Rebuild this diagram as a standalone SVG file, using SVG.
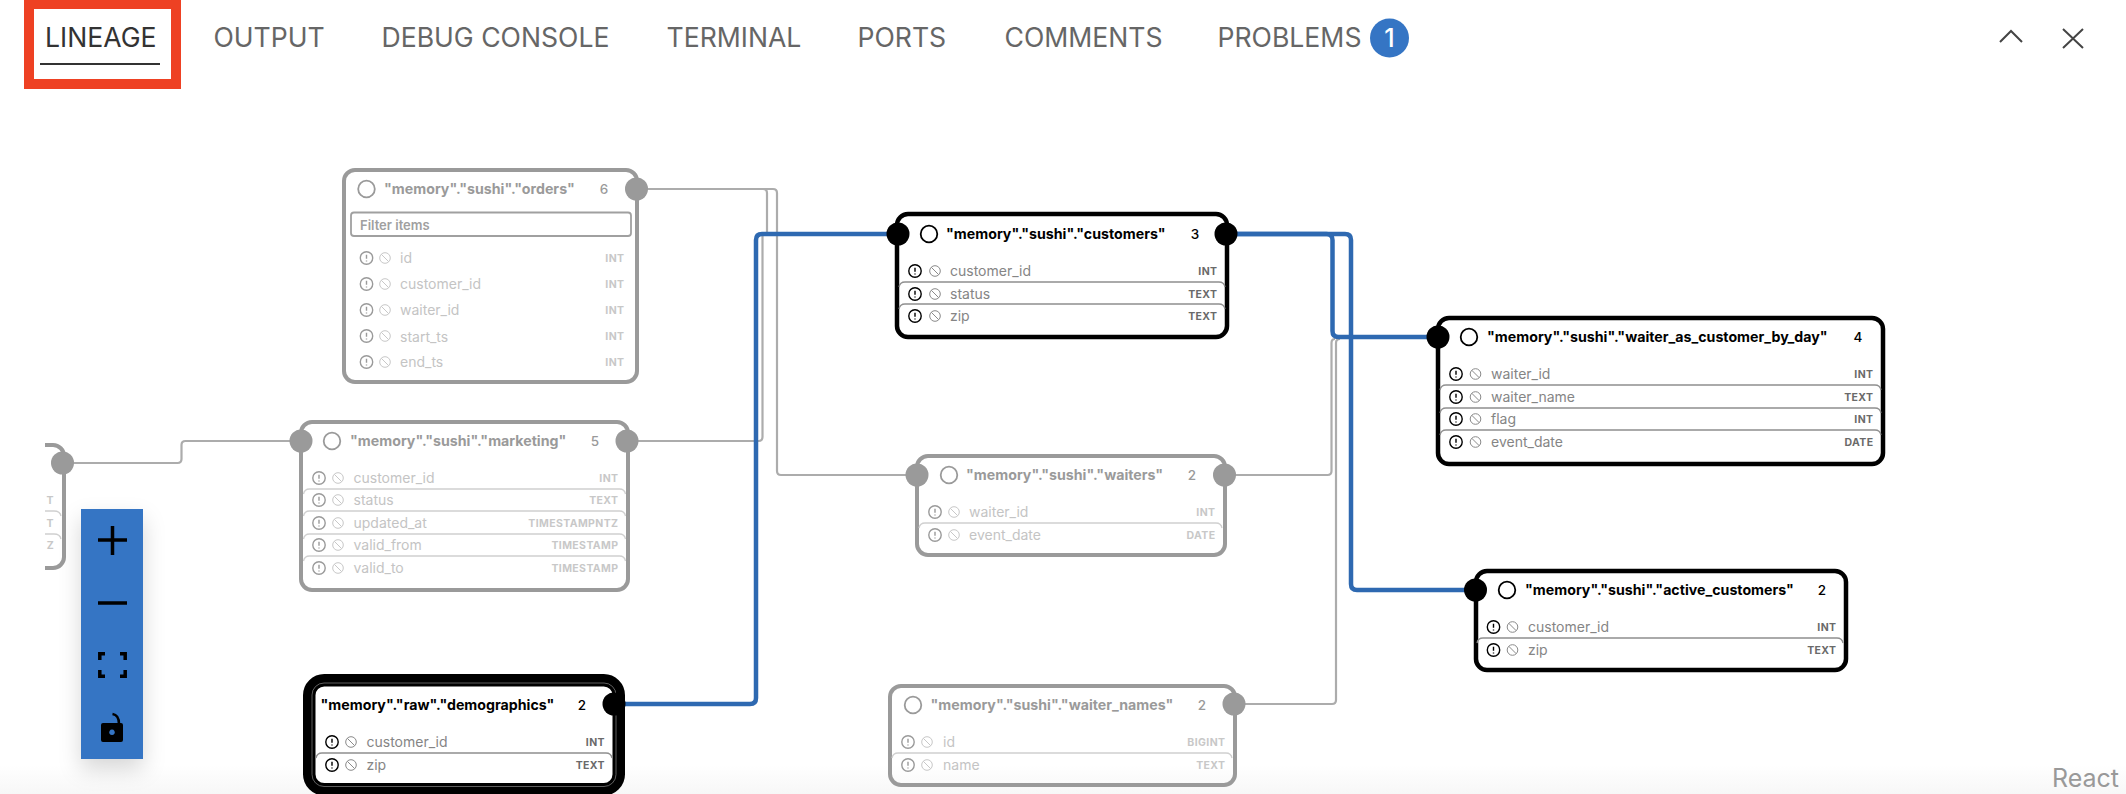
<svg xmlns="http://www.w3.org/2000/svg" xmlns:xlink="http://www.w3.org/1999/xlink" width="2126" height="794" viewBox="0 0 2126 794">
<style>
text{font-family:Inter,"Liberation Sans",sans-serif}
.tab{font-size:26.600px;fill:#666}
.cb{fill:none;stroke:#9a9a9a;stroke-width:4}
.ck{fill:none;stroke:#000;stroke-width:4.5}
.hg{fill:#9a9a9a}.hk{fill:#000}
.t{font-size:14.200px;font-weight:700;fill:#000}
.tg{font-size:14.200px;font-weight:700;fill:#9a9a9a}
.c{font-size:13.500px;font-weight:500;text-anchor:middle;fill:#000}
.cg{font-size:13.500px;font-weight:500;text-anchor:middle;fill:#9a9a9a}
.n{font-size:14px;fill:#858585}.ng{font-size:14px;fill:#c4c4c4}
.y{font-size:10.500px;font-weight:700;letter-spacing:.4px;text-anchor:end;fill:#6a6a6a}
.yg{font-size:10.500px;font-weight:700;letter-spacing:.4px;text-anchor:end;fill:#c8c8c8}
.s{fill:none;stroke:#8f8f8f;stroke-width:1.300}.sg{fill:none;stroke:#d0d0d0;stroke-width:1.300}
.gl{fill:none;stroke:#acacac;stroke-width:2.200}
.bl{fill:none;stroke:#2e69b1;stroke-width:4.500}
.ic{fill:none;stroke:#000;stroke-width:1.400}
.icg{fill:none;stroke:#9a9a9a;stroke-width:1.400}
.ct{fill:none;stroke:#000}
</style>
<defs>
<linearGradient id="fade" x1="0" y1="0" x2="0" y2="1"><stop offset="0" stop-color="#fff"/><stop offset="1" stop-color="#f7f7f7"/></linearGradient>
<filter id="sh" x="-60%" y="-20%" width="220%" height="140%"><feDropShadow dx="0" dy="10" stdDeviation="11" flood-color="#000" flood-opacity=".16"/></filter>
<clipPath id="cut"><rect x="45" y="430" width="40" height="150"/></clipPath>
<g id="ik"><circle r="6.200" class="ic"/><path d="M0-3.200V.8M0 2.600V3.600" class="ic"/></g>
<g id="ig"><circle r="6.200" class="icg"/><path d="M0-3.200V.8M0 2.600V3.600" class="icg"/></g>
<g id="bk"><circle r="5.300" fill="none" stroke="#8a8a8a" stroke-width="1"/><path d="M-3.700-3.700L3.700 3.700" fill="none" stroke="#8a8a8a" stroke-width="1"/></g>
<g id="bg"><circle r="5.300" fill="none" stroke="#c8c8c8" stroke-width="1"/><path d="M-3.700-3.700L3.700 3.700" fill="none" stroke="#c8c8c8" stroke-width="1"/></g>
</defs>
<rect width="2126" height="794" fill="#fff"/>
<rect y="765" width="2126" height="29" fill="url(#fade)"/>

<g id="tabs">
<rect x="29" y="4" width="147" height="80" fill="none" stroke="#ee4123" stroke-width="10"/>
<text x="45" y="47" class="tab" style="fill:#333">LINEAGE</text>
<rect x="40" y="63" width="120" height="2" fill="#333"/>
<text x="213.500" y="47" class="tab">OUTPUT</text>
<text x="381.500" y="47" class="tab">DEBUG CONSOLE</text>
<text x="666.500" y="47" class="tab">TERMINAL</text>
<text x="857.500" y="47" class="tab">PORTS</text>
<text x="1004.500" y="47" class="tab">COMMENTS</text>
<text x="1217.500" y="47" class="tab">PROBLEMS</text>
<circle cx="1389.500" cy="38" r="19.500" fill="#3575c4"/>
<text x="1389.500" y="47" text-anchor="middle" font-size="25" font-weight="500" fill="#fff">1</text>
<path d="M2000 42L2011 31L2022 42" fill="none" stroke="#444" stroke-width="2"/>
<path d="M2063 29L2083 48M2083 29L2063 48" fill="none" stroke="#444" stroke-width="2"/>
</g>

<g id="connectors">
<path class="gl" d="M647 189H763Q767 189 767 193V236"/>
<path class="gl" d="M647 189H773Q777 189 777 193V471Q777 475 781 475H917"/>
<path class="gl" d="M627 441H758.500Q762.500 441 762.500 437V236"/>
<path class="gl" d="M73 463H177.500Q181.500 463 181.500 459V445Q181.500 441 185.500 441H301"/>
<path class="gl" d="M1224 475H1327.500Q1331.500 475 1331.500 471V343Q1331.500 339 1335 339"/>
<path class="gl" d="M1234 704H1332Q1336 704 1336 700V343Q1336 339 1340 339"/>
<path class="bl" d="M625 704H750Q756 704 756 698V240Q756 234 762 234H898"/>
<path class="bl" d="M1226 234H1345Q1351 234 1351 240V584Q1351 590 1357 590H1475"/>
<path class="bl" d="M1226 234H1326.500Q1332.500 234 1332.500 240V331Q1332.500 337 1338.500 337H1438"/>
</g>

<g id="node-left-cut" clip-path="url(#cut)">
<rect x="10" y="445" width="54" height="123" rx="11" fill="#fff" stroke="#9a9a9a" stroke-width="4"/>
<circle cx="62.500" cy="463" r="11.500" class="hg"/>
<path class="sg" d="M20 511H54Q60 511 61 516M20 534H54Q60 534 61 539"/>
<text x="54" y="504" class="yg">T</text>
<text x="54" y="527" class="yg">T</text><text x="54" y="549" class="yg">Z</text>
</g>

<g id="node-orders">
<rect x="344" y="170" width="293" height="212" rx="11" fill="#fff" class="cb"/>
<circle cx="636.500" cy="189" r="11.500" class="hg"/>
<circle cx="366.500" cy="189" r="8.300" fill="none" stroke="#9a9a9a" stroke-width="1.800"/>
<text x="384" y="194" class="tg">"memory"."sushi"."orders"</text>
<text x="604" y="194" class="cg">6</text>
<rect x="351" y="212.500" width="280" height="23.500" rx="3" fill="#fff" stroke="#a0a0a0" stroke-width="1.800"/>
<text x="360" y="229.500" font-size="13" font-weight="600" fill="#a0a0a0">Filter items</text>
<use href="#ig" x="366.500" y="258"/><use href="#bg" x="385" y="258"/><text x="400" y="263" class="ng">id</text><text x="624.500" y="262" class="yg">INT</text>
<use href="#ig" x="366.500" y="284"/><use href="#bg" x="385" y="284"/><text x="400" y="289" class="ng">customer_id</text><text x="624.500" y="288" class="yg">INT</text>
<use href="#ig" x="366.500" y="310"/><use href="#bg" x="385" y="310"/><text x="400" y="315" class="ng">waiter_id</text><text x="624.500" y="314" class="yg">INT</text>
<use href="#ig" x="366.500" y="336"/><use href="#bg" x="385" y="336"/><text x="400" y="342" class="ng">start_ts</text><text x="624.500" y="340" class="yg">INT</text>
<use href="#ig" x="366.500" y="362"/><use href="#bg" x="385" y="362"/><text x="400" y="367" class="ng">end_ts</text><text x="624.500" y="366" class="yg">INT</text>
</g>

<g id="node-customers">
<rect x="897" y="214" width="330" height="123" rx="11" fill="#fff" class="ck"/>
<circle cx="898" cy="234" r="11.500" class="hk"/><circle cx="1226" cy="234" r="11.500" class="hk"/>
<circle cx="929" cy="234" r="8.300" fill="none" stroke="#000" stroke-width="1.800"/>
<text x="946" y="239" class="t">"memory"."sushi"."customers"</text>
<text x="1195" y="239" class="c">3</text>
<path class="s" d="M899 287Q900 282 905 282H1219Q1224 282 1225 287M899 309Q900 304 905 304H1219Q1224 304 1225 309"/>
<use href="#ik" x="915" y="271"/><use href="#bk" x="935" y="271"/><text x="950" y="276" class="n">customer_id</text><text x="1217.500" y="275" class="y">INT</text>
<use href="#ik" x="915" y="294"/><use href="#bk" x="935" y="294"/><text x="950" y="299" class="n">status</text><text x="1217.500" y="298" class="y">TEXT</text>
<use href="#ik" x="915" y="316"/><use href="#bk" x="935" y="316"/><text x="950" y="321" class="n">zip</text><text x="1217.500" y="320" class="y">TEXT</text>
</g>

<g id="node-waiter-as-customer-by-day">
<rect x="1438" y="318" width="445" height="146" rx="11" fill="#fff" class="ck"/>
<circle cx="1438" cy="337" r="11.500" class="hk"/>
<circle cx="1469" cy="337" r="8.300" fill="none" stroke="#000" stroke-width="1.800"/>
<text x="1487" y="342" class="t">"memory"."sushi"."waiter_as_customer_by_day"</text>
<text x="1858" y="342" class="c">4</text>
<path class="s" d="M1440 390Q1441 385 1446 385H1875Q1880 385 1881 390M1440 413Q1441 408 1446 408H1875Q1880 408 1881 413M1440 435Q1441 430 1446 430H1875Q1880 430 1881 435"/>
<use href="#ik" x="1456" y="374"/><use href="#bk" x="1475.500" y="374"/><text x="1491" y="379" class="n">waiter_id</text><text x="1873.500" y="378" class="y">INT</text>
<use href="#ik" x="1456" y="397"/><use href="#bk" x="1475.500" y="397"/><text x="1491" y="402" class="n">waiter_name</text><text x="1873.500" y="401" class="y">TEXT</text>
<use href="#ik" x="1456" y="419"/><use href="#bk" x="1475.500" y="419"/><text x="1491" y="424" class="n">flag</text><text x="1873.500" y="423" class="y">INT</text>
<use href="#ik" x="1456" y="442"/><use href="#bk" x="1475.500" y="442"/><text x="1491" y="447" class="n">event_date</text><text x="1873.500" y="446" class="y">DATE</text>
</g>

<g id="node-active-customers">
<rect x="1476" y="571" width="370" height="99" rx="11" fill="#fff" class="ck"/>
<circle cx="1475.500" cy="590" r="11.500" class="hk"/>
<circle cx="1507" cy="590" r="8.300" fill="none" stroke="#000" stroke-width="1.800"/>
<text x="1525" y="595" class="t">"memory"."sushi"."active_customers"</text>
<text x="1822" y="595" class="c">2</text>
<path class="s" d="M1477 643Q1478 638 1483 638H1837Q1842 638 1843 643"/>
<use href="#ik" x="1493.500" y="627"/><use href="#bk" x="1512.500" y="627"/><text x="1528" y="632" class="n">customer_id</text><text x="1836.500" y="631" class="y">INT</text>
<use href="#ik" x="1493.500" y="650"/><use href="#bk" x="1512.500" y="650"/><text x="1528" y="655" class="n">zip</text><text x="1836.500" y="654" class="y">TEXT</text>
</g>

<g id="node-marketing">
<rect x="301" y="422" width="327" height="168" rx="11" fill="#fff" class="cb"/>
<circle cx="301" cy="441" r="11.500" class="hg"/><circle cx="627" cy="441" r="11.500" class="hg"/>
<circle cx="332" cy="441" r="8.300" fill="none" stroke="#9a9a9a" stroke-width="1.800"/>
<text x="350" y="446" class="tg">"memory"."sushi"."marketing"</text>
<text x="595" y="446" class="cg">5</text>
<path class="sg" d="M303.500 494Q304.500 489 309.500 489H619.500Q624.500 489 625.500 494M303.500 516Q304.500 511 309.500 511H619.500Q624.500 511 625.500 516M303.500 539Q304.500 534 309.500 534H619.500Q624.500 534 625.500 539M303.500 561Q304.500 556 309.500 556H619.500Q624.500 556 625.500 561"/>
<use href="#ig" x="319" y="478"/><use href="#bg" x="338" y="478"/><text x="353.500" y="483" class="ng">customer_id</text><text x="618.500" y="482" class="yg">INT</text>
<use href="#ig" x="319" y="500"/><use href="#bg" x="338" y="500"/><text x="353.500" y="505" class="ng">status</text><text x="618.500" y="504" class="yg">TEXT</text>
<use href="#ig" x="319" y="523"/><use href="#bg" x="338" y="523"/><text x="353.500" y="528" class="ng">updated_at</text><text x="618.500" y="527" class="yg">TIMESTAMPNTZ</text>
<use href="#ig" x="319" y="545"/><use href="#bg" x="338" y="545"/><text x="353.500" y="550" class="ng">valid_from</text><text x="618.500" y="549" class="yg">TIMESTAMP</text>
<use href="#ig" x="319" y="568"/><use href="#bg" x="338" y="568"/><text x="353.500" y="573" class="ng">valid_to</text><text x="618.500" y="572" class="yg">TIMESTAMP</text>
</g>

<g id="node-waiters">
<rect x="917" y="456" width="308" height="99" rx="11" fill="#fff" class="cb"/>
<circle cx="917" cy="475" r="11.500" class="hg"/><circle cx="1224.500" cy="475" r="11.500" class="hg"/>
<circle cx="949" cy="475" r="8.300" fill="none" stroke="#9a9a9a" stroke-width="1.800"/>
<text x="966" y="480" class="tg">"memory"."sushi"."waiters"</text>
<text x="1192" y="480" class="cg">2</text>
<path class="sg" d="M919 528Q920 523 925 523H1216Q1221 523 1222 528"/>
<use href="#ig" x="935" y="512"/><use href="#bg" x="954" y="512"/><text x="969" y="517" class="ng">waiter_id</text><text x="1215.500" y="516" class="yg">INT</text>
<use href="#ig" x="935" y="535"/><use href="#bg" x="954" y="535"/><text x="969" y="540" class="ng">event_date</text><text x="1215.500" y="539" class="yg">DATE</text>
</g>

<g id="node-waiter-names">
<rect x="890" y="686" width="345" height="99" rx="11" fill="#fff" class="cb"/>
<circle cx="1234" cy="704" r="11.500" class="hg"/>
<circle cx="913" cy="705" r="8.300" fill="none" stroke="#9a9a9a" stroke-width="1.800"/>
<text x="930.500" y="710" class="tg">"memory"."sushi"."waiter_names"</text>
<text x="1202" y="710" class="cg">2</text>
<path class="sg" d="M892 758Q893 753 898 753H1226Q1231 753 1232 758"/>
<use href="#ig" x="908" y="742"/><use href="#bg" x="927" y="742"/><text x="943" y="747" class="ng">id</text><text x="1225.500" y="746" class="yg">BIGINT</text>
<use href="#ig" x="908" y="765"/><use href="#bg" x="927" y="765"/><text x="943" y="770" class="ng">name</text><text x="1225.500" y="769" class="yg">TEXT</text>
</g>

<g id="node-demographics">
<rect x="309.250" y="680.250" width="309.500" height="109" rx="15" fill="#fff" stroke="#000" stroke-width="12.500"/>
<rect x="312" y="683" width="304" height="103.500" rx="12" fill="none" stroke="#777" stroke-width=".8"/>
<circle cx="614" cy="704" r="11.500" class="hk"/>
<text x="320.500" y="710" class="t">"memory"."raw"."demographics"</text>
<text x="582" y="710" class="c">2</text>
<path class="s" d="M316 758Q317 753 322 753H606Q611 753 612 758"/>
<use href="#ik" x="332" y="742"/><use href="#bk" x="351" y="742"/><text x="366.500" y="747" class="n">customer_id</text><text x="605" y="746" class="y">INT</text>
<use href="#ik" x="332" y="765"/><use href="#bk" x="351" y="765"/><text x="366.500" y="770" class="n">zip</text><text x="605" y="769" class="y">TEXT</text>
</g>

<g id="controls">
<rect x="81" y="509" width="62" height="250" fill="#3575c4" filter="url(#sh)"/>
<path class="ct" stroke-width="3.500" d="M98 540H127M112.500 526V555"/>
<path class="ct" stroke-width="3.500" d="M98 603H127"/>
<path class="ct" stroke-width="3.500" d="M99.800 660V653.800H105M120 653.800H125.200V660M99.800 670V676.200H105M120 676.200H125.200V670"/>
<path fill="none" stroke="#000" stroke-width="2.500" d="M112.500 714Q119 715 119 724"/>
<path fill="#000" fill-rule="evenodd" d="M103 723H121Q123 723 123 725V740Q123 742 121 742H103Q101 742 101 740V725Q101 723 103 723ZM112 729.500a2.800 2.800 0 1 0 .01 0Z"/>
</g>
<text x="2052" y="787" font-size="25" fill="#999">React</text>
</svg>
